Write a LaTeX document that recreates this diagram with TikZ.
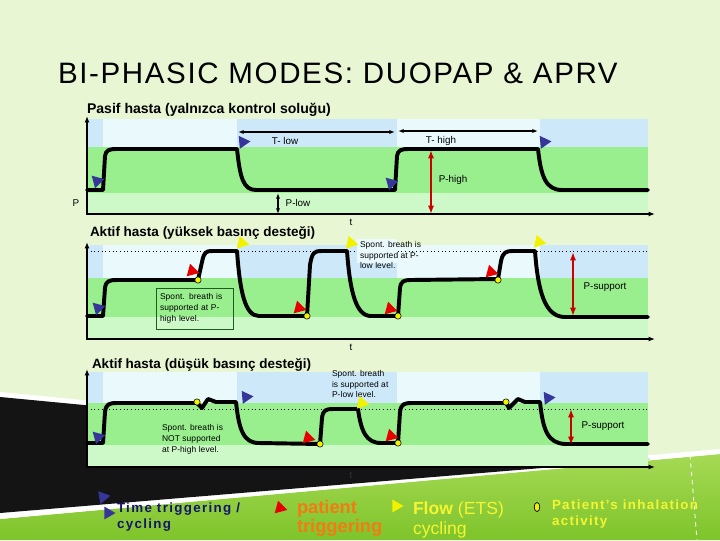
\documentclass[tikz,border=0pt]{standalone}
\usepackage{fontspec}
\setmainfont{Liberation Sans}
\usepackage{xcolor}
\usetikzlibrary{arrows.meta,shapes.geometric}

\definecolor{bgcream}{HTML}{E9F6D4}
\definecolor{bandblue}{HTML}{CDE9F9}
\definecolor{bandpale}{HTML}{E9F9FC}
\definecolor{bandgreen}{HTML}{99EF8E}
\definecolor{bandlight}{HTML}{CDF9C9}
\definecolor{trigblue}{HTML}{36369A}
\definecolor{trigred}{HTML}{E80000}
\definecolor{cycyellow}{HTML}{F2F200}
\definecolor{legnavy}{HTML}{14146E}
\definecolor{legorange}{HTML}{F57A12}
\definecolor{legyellow}{HTML}{F5F532}
\definecolor{boxgreen}{HTML}{1F5A1F}
\definecolor{grassA}{HTML}{A6DA55}
\definecolor{grassB}{HTML}{7EC42A}

\begin{document}
\begin{tikzpicture}[x=0.025cm, y=-0.025cm,
    every node/.style={inner sep=0pt, outer sep=0pt},
    wave/.style={line width=2.8pt, line join=round, line cap=round},
    axis/.style={line width=1.3pt, {Latex[length=4.5pt,width=3.5pt]}-{Latex[length=4.5pt,width=3.5pt]}},
    dimarr/.style={line width=0.9pt, {Latex[length=4pt,width=3pt]}-{Latex[length=4pt,width=3pt]}},
    suparr/.style={line width=2pt, draw=red!80!black, {Latex[length=6pt,width=4.5pt]}-{Latex[length=6pt,width=4.5pt]}},
    lbl/.style={font=\fontsize{7}{8}\selectfont},
    note/.style={font=\fontsize{6}{7.8}\selectfont\addfontfeatures{LetterSpace=1}, align=left},
    ptitle/.style={font=\fontsize{9.6}{12}\selectfont\bfseries, anchor=base west},
    tri/.style={isosceles triangle, isosceles triangle apex angle=60, minimum width=8pt, minimum height=8pt},
    timemk/.style={tri, fill=trigblue},
    patmk/.style={tri, fill=trigred, rotate=-135},
    flowmk/.style={tri, fill=cycyellow},
    effort/.style={circle, fill=cycyellow, draw=black, line width=0.4pt, minimum size=4.5pt}
  ]
    \useasboundingbox (0,0) rectangle (720,540);
    % background and slide decoration
    \fill[bgcream] (0,0) rectangle (720,540);
    \shade[top color=grassA, bottom color=grassB] (0,519) -- (720,454) -- (720,540) -- (0,540) -- cycle;
    \fill[white] (0,512) -- (720,449) -- (720,454) -- (0,519) -- cycle;
    \fill[white] (0,392) -- (650,455) -- (650,459) -- (0,397) -- cycle;
    \fill[black!92] (0,397) -- (650,459) -- (0,513) -- cycle;
    \draw[white, dashed, line width=0.6pt] (690,455) -- (697,540);

    \node[font=\fontsize{21}{24}\selectfont\addfontfeatures{LetterSpace=5.5}, anchor=base west] (title) at (58,83) {BI-PHASIC MODES: DUOPAP \& APRV};

    % bands of the three panels
    \foreach \yt/\ym/\yl/\ya in {119/147/193/214, 245/278/317/339, 372/403/445/467} {
      \fill[bandblue] (87,\yt) rectangle (648,\ym);
      \fill[bandpale] (103,\yt) rectangle (237,\ym);
      \fill[bandpale] (397,\yt) rectangle (540,\ym);
      \fill[bandgreen] (87,\ym) rectangle (648,\yl);
      \fill[bandlight] (87,\yl) rectangle (648,\ya);
      \draw[axis] (87,{\yt-3}) -- (87,\ya) -- (655,\ya);
    }

    % panel 1
    \node[ptitle, font=\fontsize{10}{12}\selectfont\bfseries] (pas) at (87,113) {Pasif hasta (yalnızca kontrol soluğu)};
    \draw[wave] (87,190) -- (103,190) -- (105,156) .. controls (106,150) and (109,149) .. (117,149)
      -- (237,149) .. controls (240,177) and (243,190) .. (256,190) -- (395,190)
      -- (397,156) .. controls (398,150) and (401,149) .. (409,149)
      -- (538,149) .. controls (541,177) and (546,190) .. (562,190) -- (648,190);
    \coordinate (tl1) at (238,132);
    \coordinate (tl2) at (395,132);
    \coordinate (th1) at (398,131);
    \coordinate (th2) at (538,131);
    \draw[dimarr] (tl1) -- (tl2);
    \draw[dimarr] (th1) -- (th2);
    \node[lbl] (tlow) at (285,141) {T- low};
    \node[lbl] (thigh) at (441,141) {T- high};
    \coordinate (ph1) at (431,150);
    \coordinate (ph2) at (431,214);
    \draw[suparr] (ph1) -- (ph2);
    \node[lbl] (phigh) at (453,180) {P-high};
    \coordinate (pl1) at (278,193);
    \coordinate (pl2) at (278,214);
    \draw[dimarr] (pl1) -- (pl2);
    \node[lbl] (plow) at (298,203) {P-low};
    \node[lbl] (paxis) at (76,203) {P};
    \node[lbl] (t1) at (351,222) {t};
    \foreach \x/\y/\r [count=\i] in {97/181/-105, 243/142/5, 391/183/-105, 544/142/5}
      \node[timemk, rotate=\r] (pa\i) at (\x,\y) {};

    % panel 2
    \node[ptitle] (akh) at (90,236) {Aktif hasta (yüksek basınç desteği)};
    \draw[dotted, line width=0.6pt] (87,251) -- (648,251);
    \fill[bandpale] (357,239) rectangle (397,263);
    \draw[wave] (87,316) -- (103,316) -- (105,288) .. controls (106,281) and (109,280) .. (117,280)
      -- (198,280) -- (202,262) .. controls (204,252) and (206,251) .. (212,251) -- (237,251)
      .. controls (240,292) and (245,316) .. (259,316) -- (307,316)
      -- (310,265) .. controls (312,252) and (315,251) .. (321,251) -- (347,251)
      .. controls (350,292) and (356,316) .. (371,316) -- (398,316)
      -- (400,288) .. controls (401,281) and (404,280) .. (411,280) -- (498,279)
      -- (501,261) .. controls (503,252) and (506,251) .. (513,251) -- (535,251)
      .. controls (538,292) and (545,316) .. (564,317) -- (648,317);
    \node[note, anchor=north west, draw=boxgreen, line width=0.5pt, text width=1.73cm,
      inner xsep=0.1cm, minimum height=1.025cm] (boxhigh) at (156,288) {Spont. breath is\\supported at P-\\high level.};
    \node[note, anchor=west] (notelow) at (360,255) {Spont. breath is\\supported at P-\\low level.};
    \coordinate (ps1) at (573,252);
    \coordinate (ps2) at (573,316);
    \draw[suparr] (ps1) -- (ps2);
    \node[lbl] (psup) at (605,287) {P-support};
    \node[lbl] (t2) at (351,347) {t};
    \node[timemk, rotate=-105] (hb1) at (98,308) {};
    \foreach \x/\y [count=\i] in {192/271, 299/308, 390/309, 491/272}
      \node[patmk] (hr\i) at (\x,\y) {};
    \foreach \x/\y [count=\i] in {198/280, 307/316, 398/316, 498/280}
      \node[effort] (hd\i) at (\x,\y) {};
    \foreach \x/\y [count=\i] in {242/243, 351/243, 539/242}
      \node[flowmk, rotate=-12] (hy\i) at (\x,\y) {};

    % panel 3
    \node[ptitle] (akl) at (92,368) {Aktif hasta (düşük basınç desteği)};
    \draw[dotted, line width=0.6pt] (87,409) -- (648,409);
    \draw[wave] (87,443) -- (103,443) -- (105,412) .. controls (106,404) and (109,403) .. (117,403)
      -- (197,403) -- (202,408) -- (208,399) -- (216,402) -- (236,402)
      .. controls (239,431) and (244,443) .. (259,443) -- (320,444)
      -- (322,418) .. controls (323,410) and (326,409) .. (333,409) -- (358,409)
      .. controls (361,431) and (366,443) .. (381,443) -- (398,443)
      -- (400,412) .. controls (401,404) and (404,403) .. (412,403) -- (506,403)
      -- (509,408) -- (518,399) -- (525,402) -- (540,402)
      .. controls (543,431) and (548,443) .. (565,444) -- (648,444);
    \node[note, anchor=west] (notenot) at (162,439) {Spont. breath is\\NOT supported\\at P-high level.};
    \node[note, anchor=west] (notelow2) at (332,384) {Spont. breath\\is supported at\\P-low level.};
    \coordinate (pt1) at (571,409);
    \coordinate (pt2) at (571,445);
    \draw[suparr] (pt1) -- (pt2);
    \node[lbl] (psup2) at (603,426) {P-support};
    \node[lbl, text=black!80] (t3) at (351,475) {t};
    \node[timemk, rotate=-105] (lb1) at (98,437) {};
    \foreach \x/\y [count=\i] in {246/397, 548/398}
      \node[timemk, rotate=5] (lb\i r) at (\x,\y) {};
    \foreach \x/\y [count=\i] in {308/438, 391/436}
      \node[patmk] (lr\i) at (\x,\y) {};
    \foreach \x/\y [count=\i] in {197/402, 320/444, 398/443, 506/402}
      \node[effort] (ld\i) at (\x,\y) {};
    \node[flowmk, rotate=-12] (ly1) at (362,403) {};

    % legend
    \node[timemk, rotate=-110] (legb1) at (103,497) {};
    \node[timemk] (legb2) at (108,513) {};
    \node[anchor=west, align=left, text=legnavy, font=\fontsize{9.5}{11}\selectfont\bfseries\addfontfeatures{LetterSpace=10}] (legtime) at (117,517) {Time triggering /\\cycling};
    \node[patmk] (legr) at (280,508) {};
    \node[anchor=west, align=left, text=legorange, font=\fontsize{13}{13.5}\selectfont\bfseries] (legpat) at (297,518) {patient\\triggering};
    \node[flowmk] (legy) at (396,506) {};
    \node[anchor=west, align=left, text=legyellow, font=\fontsize{12.5}{14}\selectfont] (legflow) at (413,520) {\textbf{Flow} (ETS)\\cycling};
    \node[ellipse, draw=black, fill=cycyellow, line width=0.5pt, minimum width=4pt, minimum height=6.5pt] (legdot) at (537,507) {};
    \node[anchor=west, align=left, text=legyellow, font=\fontsize{9.5}{11}\selectfont\bfseries\addfontfeatures{LetterSpace=10}] (legact) at (552,514) {Patient’s inhalation\\activity};
\end{tikzpicture}
\end{document}
